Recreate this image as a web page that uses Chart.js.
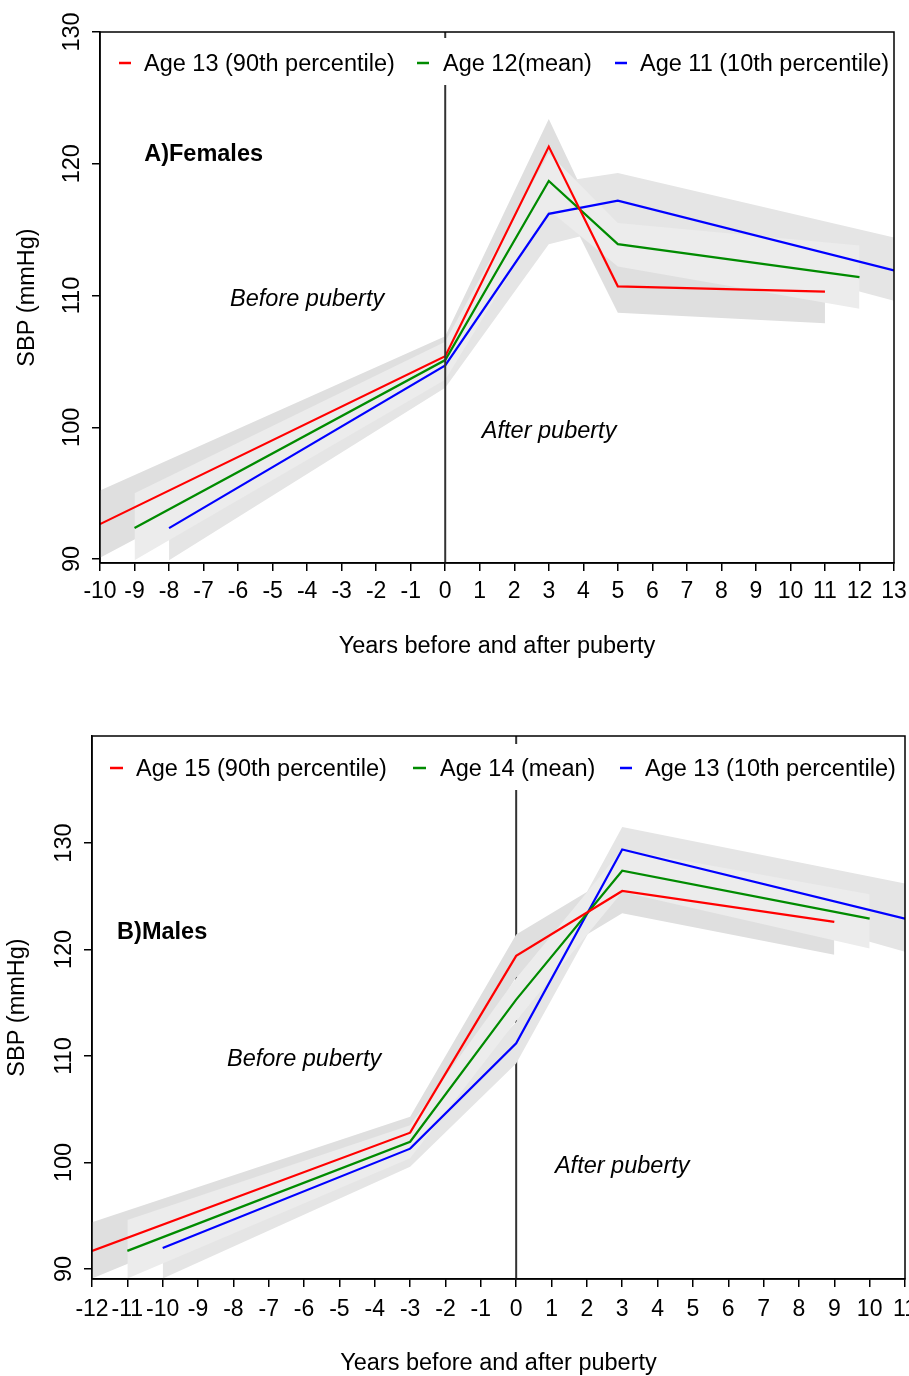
<!DOCTYPE html>
<html><head><meta charset="utf-8">
<script src="https://cdn.jsdelivr.net/npm/chart.js@4.4.1/dist/chart.umd.min.js"></script>
<style>
html,body{margin:0;padding:0;background:#fff;}
#w1{position:absolute;left:0;top:0;width:909px;height:690px;}
#w2{position:absolute;left:0;top:690px;width:909px;height:686px;}
</style></head><body>
<div id="w1"><canvas id="c1"></canvas></div>
<div id="w2"><canvas id="c2"></canvas></div>
<script>
// ---------- Panel A: Females ----------
const femLabels = ['Age 13 (90th percentile)', 'Age 12(mean)', 'Age 11 (10th percentile)'];
const femX13 = [-10, 0, 3, 5, 11];
const femY13 = [92.65, 105.4, 121.3, 110.7, 110.3];
const femX12 = [-9, 0, 3, 5, 12];
const femY12 = [92.35, 105.1, 118.7, 113.9, 111.4];
const femX11 = [-8, 0, 3, 5, 13];
const femY11 = [92.35, 104.7, 116.2, 117.2, 111.9];
const femHi13 = [95.2, 106.9, 123.4, 112.3, 111.6];
const femLo13 = [90.1, 104.0, 119.2, 108.7, 107.9];
const femHi12 = [95.0, 106.5, 120.8, 115.5, 113.8];
const femLo12 = [89.9, 103.6, 116.5, 112.2, 109.0];
const femHi11 = [94.7, 106.2, 118.5, 119.3, 114.4];
const femLo11 = [89.9, 103.0, 113.9, 115.2, 109.6];
const femXTicks = [-10,-9,-8,-7,-6,-5,-4,-3,-2,-1,0,1,2,3,4,5,6,7,8,9,10,11,12,13];
const femYTicks = [90, 100, 110, 120, 130];

// ---------- Panel B: Males ----------
const malLabels = ['Age 15 (90th percentile)', 'Age 14 (mean)', 'Age 13 (10th percentile)'];
const malX15 = [-12, -3, 0, 3, 9];
const malY15 = [91.7, 102.8, 119.4, 125.5, 122.6];
const malX14 = [-11, -3, 0, 3, 10];
const malY14 = [91.7, 101.95, 115.3, 127.4, 122.9];
const malX13 = [-10, -3, 0, 3, 11];
const malY13 = [91.97, 101.3, 111.2, 129.4, 122.9];
const malHi15 = [94.4, 104.3, 121.4, 127.4, 124.4];
const malLo15 = [89.1, 101.4, 117.4, 123.4, 119.5];
const malHi14 = [94.6, 103.5, 117.3, 129.4, 125.2];
const malLo14 = [89.1, 100.4, 113.3, 125.4, 120.1];
const malHi13 = [95.0, 102.8, 113.2, 131.5, 126.2];
const malLo13 = [89.1, 99.6, 109.3, 127.3, 119.8];
const malXTicks = [-12,-11,-10,-9,-8,-7,-6,-5,-4,-3,-2,-1,0,1,2,3,4,5,6,7,8,9,10,11];
const malYTicks = [90, 100, 110, 120, 130];

const FONT = '"Liberation Sans", Arial, Helvetica, sans-serif';
const FS = 23.5;
const RED = '#ff0000', GREEN = '#008b00', BLUE = '#0000ff';

function pts(xs, ys) { return xs.map((x, i) => ({x: x, y: ys[i]})); }

function bandSets(x, hi, lo, color, order) {
  return [
    {data: pts(x, hi), fill: '+1', backgroundColor: color, borderWidth: 0, pointRadius: 0, order: order, isBand: true, tension: 0},
    {data: pts(x, lo), fill: false, borderWidth: 0, pointRadius: 0, order: order, isBand: true, tension: 0}
  ];
}
function lineSet(label, x, y, color) {
  return {label: label, data: pts(x, y), borderColor: color, backgroundColor: color, borderWidth: 2.2,
          pointRadius: 0, fill: false, tension: 0, order: 1};
}

function drawVline(chart) {
  const ctx = chart.ctx, a = chart.chartArea, xs = chart.scales.x;
  const px = xs.getPixelForValue(0);
  ctx.save();
  ctx.strokeStyle = '#333';
  ctx.lineWidth = 2;
  ctx.beginPath(); ctx.moveTo(px, a.top); ctx.lineTo(px, a.bottom); ctx.stroke();
  ctx.restore();
}

const panelPlugin = {
  id: 'panel',
  beforeDatasetsDraw(chart, args, o) { if (o.vlineBehind) drawVline(chart); },
  afterDatasetsDraw(chart, args, o) {
    if (!o.vlineBehind) drawVline(chart);
    const ctx = chart.ctx, a = chart.chartArea;
    const xs = chart.scales.x, ys = chart.scales.y;
    // legend
    ctx.save();
    ctx.fillStyle = '#fff';
    ctx.fillRect(a.left + 1, o.legendTop, a.right - a.left - 2, o.legendBottom - o.legendTop);
    const lines = chart.data.datasets.filter(d => !d.isBand);
    ctx.font = FS + 'px ' + FONT;
    ctx.textBaseline = 'middle';
    ctx.textAlign = 'left';
    lines.forEach((d, i) => {
      const it = o.legendItems[i];
      ctx.strokeStyle = d.borderColor; ctx.lineWidth = 2.5;
      ctx.beginPath(); ctx.moveTo(it.x1, o.legendY); ctx.lineTo(it.x2, o.legendY); ctx.stroke();
      ctx.fillStyle = '#000';
      ctx.fillText(d.label, it.tx, o.legendY + 2);
    });
    // annotations
    o.notes.forEach(n => {
      ctx.font = n.font + ' ' + FS + 'px ' + FONT;
      ctx.textAlign = n.align;
      ctx.fillStyle = '#000';
      ctx.fillText(n.text, xs.getPixelForValue(n.x), ys.getPixelForValue(n.y) + 2);
    });
    ctx.restore();
  },
  afterDraw(chart, args, o) {
    const ctx = chart.ctx, a = chart.chartArea, ys = chart.scales.y;
    ctx.save();
    ctx.strokeStyle = '#000'; ctx.lineWidth = 1.5;
    ctx.strokeRect(a.left, a.top, a.right - a.left, a.bottom - a.top);
    ctx.font = FS + 'px ' + FONT;
    ctx.fillStyle = '#000';
    ctx.textAlign = 'center'; ctx.textBaseline = 'middle';
    ys.ticks.forEach(t => {
      const py = ys.getPixelForValue(t.value);
      ctx.save();
      ctx.translate(a.left - o.yLabelOffset, py);
      ctx.rotate(-Math.PI / 2);
      ctx.fillText(String(t.value), 0, 0);
      ctx.restore();
    });
    ctx.restore();
  }
};

function makeChart(id, p) {
  const datasets = [
    ...p.lines,
    ...p.bandsGreen, ...p.bandsBlue, ...p.bandsRed
  ];
  return new Chart(document.getElementById(id), {
    type: 'line',
    data: {datasets: datasets},
    plugins: [panelPlugin],
    options: {
      responsive: true, maintainAspectRatio: false, animation: false,
      layout: {padding: {left: 0, top: p.padTop, right: p.padRight, bottom: 0}},
      plugins: {
        legend: {display: false}, tooltip: {enabled: false},
        panel: p.panel
      },
      scales: {
        x: {
          type: 'linear', min: p.xMin, max: p.xMax,
          afterBuildTicks: s => { s.ticks = p.xTicks.map(v => ({value: v})); },
          afterFit: s => { s.height = p.xAxisH; s.paddingLeft = 0; s.paddingRight = 0; },
          ticks: {autoSkip: false, maxRotation: 0, minRotation: 0, color: '#000', padding: p.xTickPad,
                  font: {family: FONT, size: 23}, callback: (v) => String(v)},
          grid: {drawOnChartArea: false, drawTicks: true, tickLength: 8, color: '#000', lineWidth: 1.5},
          border: {display: true, color: '#000', width: 1.5},
          title: {display: true, text: 'Years before and after puberty', color: '#000',
                  font: {family: FONT, size: FS}, padding: {top: 0, bottom: p.xTitlePad}}
        },
        y: {
          type: 'linear', min: p.yMin, max: p.yMax,
          afterBuildTicks: s => { s.ticks = p.yTicks.map(v => ({value: v})); },
          afterFit: s => { s.width = p.yAxisW; s.paddingTop = 0; s.paddingBottom = 0; },
          ticks: {display: false},
          grid: {drawOnChartArea: false, drawTicks: true, tickLength: 8, color: '#000', lineWidth: 1.5},
          border: {display: true, color: '#000', width: 1.5},
          title: {display: true, text: 'SBP (mmHg)', color: '#000',
                  font: {family: FONT, size: FS}, padding: {top: p.yTitlePad, bottom: 0}}
        }
      }
    }
  });
}

makeChart('c1', {
  lines: [lineSet(femLabels[0], femX13, femY13, RED), lineSet(femLabels[1], femX12, femY12, GREEN), lineSet(femLabels[2], femX11, femY11, BLUE)],
  bandsGreen: bandSets(femX12, femHi12, femLo12, '#ececec', 4),
  bandsBlue: bandSets(femX11, femHi11, femLo11, '#e5e5e5', 5),
  bandsRed: bandSets(femX13, femHi13, femLo13, '#dfdfdf', 6),
  xMin: -10, xMax: 13, yMin: 89.7, yMax: 130,
  xTicks: femXTicks, yTicks: femYTicks,
  padTop: 32, padRight: 15, xAxisH: 127, yAxisW: 100, xTickPad: 7, xTitlePad: 29, yTitlePad: 13,
  panel: {
    vlineBehind: false, yLabelOffset: 27,
    legendTop: 38, legendBottom: 85, legendY: 63,
    legendItems: [{x1: 119, x2: 131, tx: 144}, {x1: 417, x2: 429, tx: 443}, {x1: 615, x2: 627, tx: 640}],
    notes: [
      {text: 'A)Females', x: -8.72, y: 120.83, align: 'left', font: 'bold'},
      {text: 'Before puberty', x: -4.0, y: 109.85, align: 'center', font: 'italic'},
      {text: 'After puberty', x: 3.01, y: 99.85, align: 'center', font: 'italic'}
    ]
  }
});

makeChart('c2', {
  lines: [lineSet(malLabels[0], malX15, malY15, RED), lineSet(malLabels[1], malX14, malY14, GREEN), lineSet(malLabels[2], malX13, malY13, BLUE)],
  bandsGreen: bandSets(malX14, malHi14, malLo14, '#ececec', 4),
  bandsBlue: bandSets(malX13, malHi13, malLo13, '#e5e5e5', 5),
  bandsRed: bandSets(malX15, malHi15, malLo15, '#dfdfdf', 6),
  xMin: -12, xMax: 11, yMin: 89.06, yMax: 140.05,
  xTicks: malXTicks, yTicks: malYTicks,
  padTop: 46, padRight: 4, xAxisH: 97, yAxisW: 92, xTickPad: 9, xTitlePad: -2, yTitlePad: 3,
  panel: {
    vlineBehind: true, yLabelOffset: 27,
    legendTop: 54, legendBottom: 100, legendY: 78,
    legendItems: [{x1: 110, x2: 123, tx: 136}, {x1: 413, x2: 426, tx: 440}, {x1: 620, x2: 632, tx: 645}],
    notes: [
      {text: 'B)Males', x: -11.29, y: 121.83, align: 'left', font: 'bold'},
      {text: 'Before puberty', x: -6.0, y: 109.9, align: 'center', font: 'italic'},
      {text: 'After puberty', x: 3.0, y: 99.77, align: 'center', font: 'italic'}
    ]
  }
});
</script>
</body></html>
